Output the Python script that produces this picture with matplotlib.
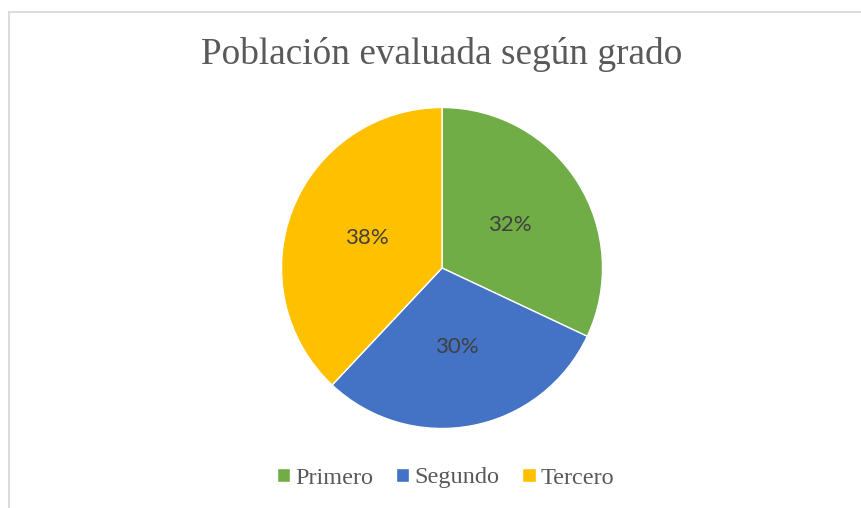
import matplotlib
matplotlib.use("Agg")
import matplotlib.pyplot as plt
from matplotlib.lines import Line2D

categories = ["Primero", "Segundo", "Tercero"]
values = [32, 30, 38]
colors = ["#70AD47", "#4472C4", "#FFC000"]
title = "Población evaluada según grado"

W, H = 862, 508
fig = plt.figure(figsize=(W / 100, H / 100), dpi=100)
fig.patch.set_facecolor("white")

# chart border (top and left visible, rest cut off)
fig.add_artist(Line2D([9.5 / W, 9.5 / W], [0, 1 - 11.5 / H], color="#D9D9D9", lw=1.3, transform=fig.transFigure))
fig.add_artist(Line2D([9.5 / W, 1], [1 - 11.5 / H, 1 - 11.5 / H], color="#D9D9D9", lw=1.3, transform=fig.transFigure))

cx, cy, r = 442, 268, 160.5
ax = fig.add_axes([(cx - r) / W, (H - cy - r) / H, 2 * r / W, 2 * r / H])
wedges, texts, autotexts = ax.pie(
    values, colors=colors, startangle=90, counterclock=False, radius=1,
    autopct=lambda p: f"{p:.0f}%", pctdistance=0.5,
    wedgeprops=dict(linewidth=1.0, edgecolor="white"),
    textprops=dict(fontsize=16, color="#404040", family="Lato"),
)
ax.set_xlim(-1, 1)
ax.set_ylim(-1, 1)
ax.set_aspect("equal")
ax.axis("off")

fig.text(442 / W, 1 - 54 / H, title, ha="center", va="center",
         fontsize=26.8, color="#595959", family="Liberation Serif")

fig.legend(wedges, categories, loc="center", bbox_to_anchor=(445.5 / W, 1 - 478 / H),
           ncol=3, frameon=False, prop=dict(family="Liberation Serif", size=17.5),
           labelcolor="#595959", handlelength=0.55, handleheight=0.55,
           handletextpad=0.2, columnspacing=0.95)

fig.savefig("out.png", dpi=100, facecolor="white")
